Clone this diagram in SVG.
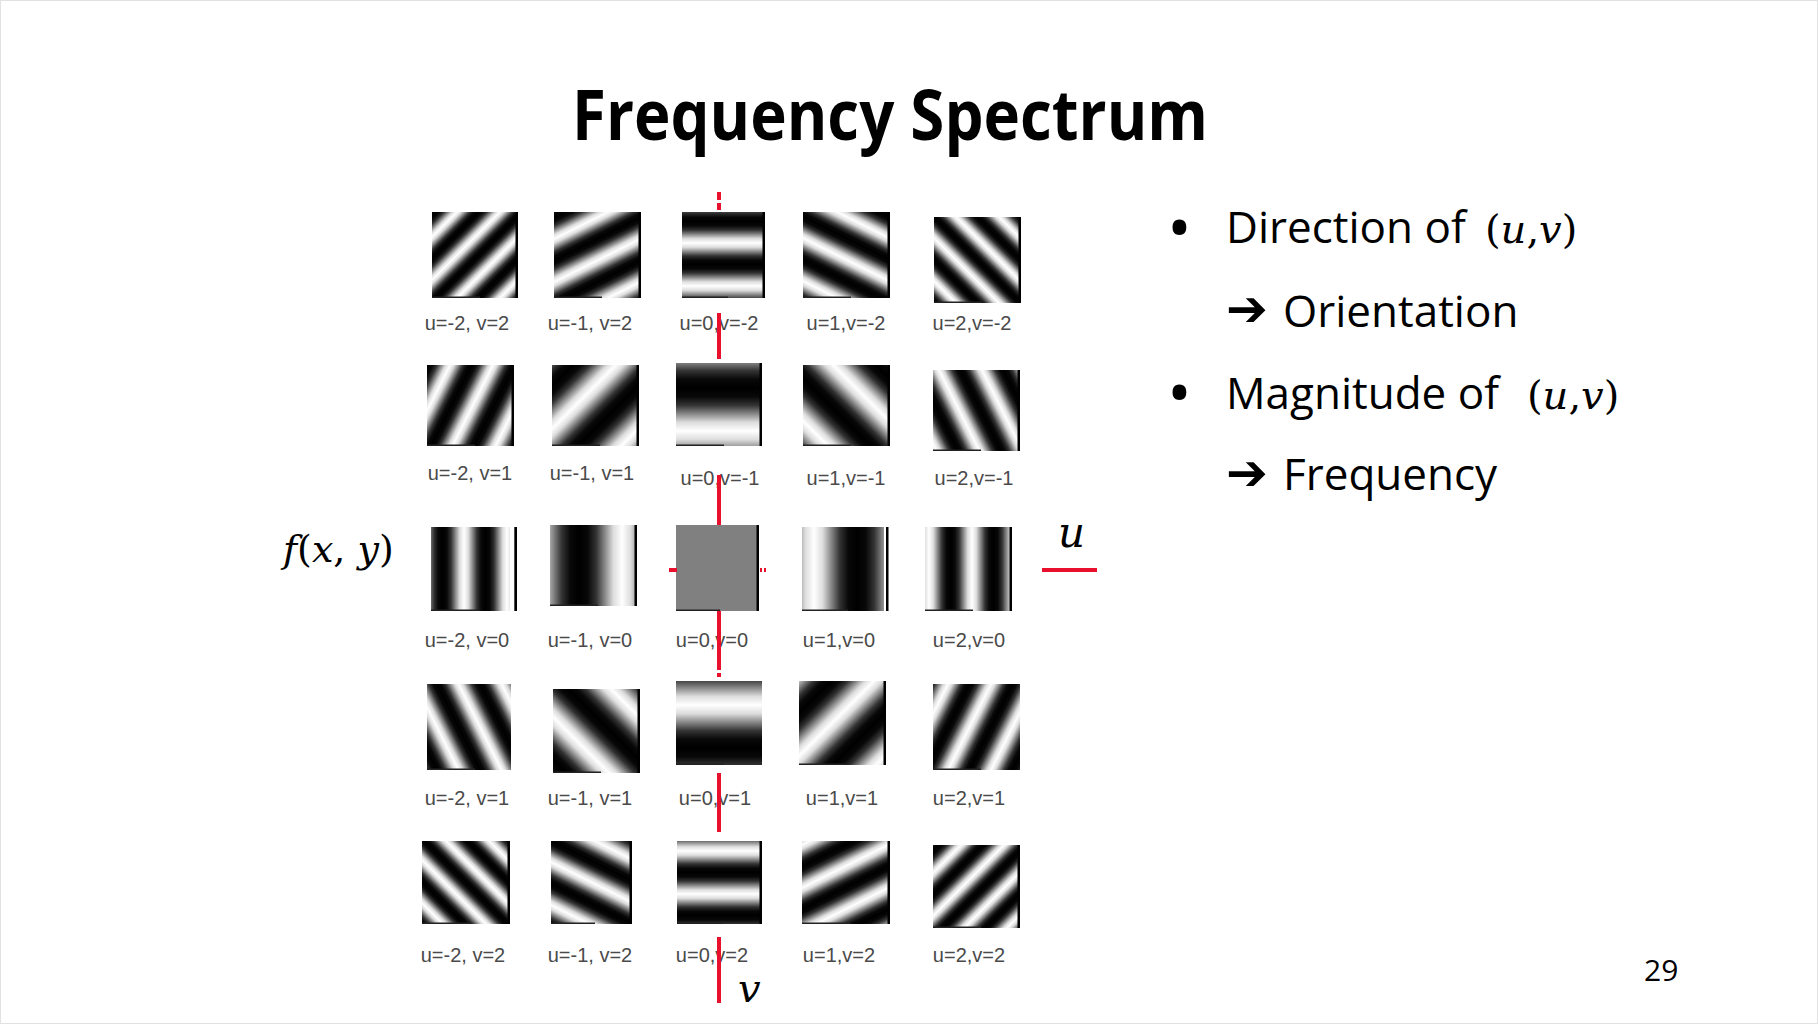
<svg xmlns="http://www.w3.org/2000/svg" xmlns:xlink="http://www.w3.org/1999/xlink" width="1818" height="1024" viewBox="0 0 1818 1024">
<style>
.lbl{font-family:"Liberation Sans",Arial,sans-serif;font-size:20px;fill:#4a4a4a;text-anchor:middle}
.body{font-family:"Open Sans","Noto Sans",sans-serif;font-size:44px;fill:#000}
.bul{font-family:"Open Sans","Noto Sans",sans-serif;font-size:66px;fill:#000}
.math{font-family:"DejaVu Serif",serif;fill:#000}
.it{font-style:italic}
.arrow{font-family:"DejaVu Sans",sans-serif;font-size:50px;font-weight:bold;fill:#000}
.re{fill:#000}
.be{fill:#222}
.red{stroke:#e8102c;stroke-width:4;fill:none}
</style>
<defs>
<linearGradient id="g" gradientUnits="userSpaceOnUse" spreadMethod="repeat">
<stop offset="0" stop-color="#fff"/>
<stop offset="0.1" stop-color="#ddd"/>
<stop offset="0.2" stop-color="#888"/>
<stop offset="0.3" stop-color="#333"/>
<stop offset="0.4" stop-color="#080808"/>
<stop offset="0.5" stop-color="#000"/>
<stop offset="0.6" stop-color="#080808"/>
<stop offset="0.7" stop-color="#333"/>
<stop offset="0.8" stop-color="#888"/>
<stop offset="0.9" stop-color="#ddd"/>
<stop offset="1" stop-color="#fff"/>
</linearGradient>
<linearGradient id="g11" href="#g" gradientUnits="userSpaceOnUse" spreadMethod="repeat" x1="-9" y1="-9" x2="-30.5" y2="-30.5"/>
<linearGradient id="g12" href="#g" gradientUnits="userSpaceOnUse" spreadMethod="repeat" x1="-6.4" y1="-12.8" x2="-23.6" y2="-47.2"/>
<linearGradient id="g13" href="#g" gradientUnits="userSpaceOnUse" spreadMethod="repeat" x1="0" y1="-12" x2="0" y2="-55"/>
<linearGradient id="g14" href="#g" gradientUnits="userSpaceOnUse" spreadMethod="repeat" x1="6.8" y1="-13.6" x2="24" y2="-48"/>
<linearGradient id="g15" href="#g" gradientUnits="userSpaceOnUse" spreadMethod="repeat" x1="11" y1="-11" x2="32.5" y2="-32.5"/>
<linearGradient id="g21" href="#g" gradientUnits="userSpaceOnUse" spreadMethod="repeat" x1="-16" y1="-8" x2="-50.4" y2="-25.2"/>
<linearGradient id="g22" href="#g" gradientUnits="userSpaceOnUse" spreadMethod="repeat" x1="-11" y1="-11" x2="-54" y2="-54"/>
<linearGradient id="g23" href="#g" gradientUnits="userSpaceOnUse" spreadMethod="repeat" x1="0" y1="-18" x2="0" y2="-104"/>
<linearGradient id="g24" href="#g" gradientUnits="userSpaceOnUse" spreadMethod="repeat" x1="15" y1="-15" x2="58" y2="-58"/>
<linearGradient id="g25" href="#g" gradientUnits="userSpaceOnUse" spreadMethod="repeat" x1="4.8" y1="-2.4" x2="39.2" y2="-19.6"/>
<linearGradient id="g31" href="#g" gradientUnits="userSpaceOnUse" spreadMethod="repeat" x1="-10" y1="0" x2="-53" y2="0"/>
<linearGradient id="g32" href="#g" gradientUnits="userSpaceOnUse" spreadMethod="repeat" x1="-14" y1="0" x2="-100" y2="0"/>
<linearGradient id="g34" href="#g" gradientUnits="userSpaceOnUse" spreadMethod="repeat" x1="12" y1="0" x2="98" y2="0"/>
<linearGradient id="g35" href="#g" gradientUnits="userSpaceOnUse" spreadMethod="repeat" x1="4" y1="0" x2="47" y2="0"/>
<linearGradient id="g41" href="#g" gradientUnits="userSpaceOnUse" spreadMethod="repeat" x1="-9.2" y1="4.6" x2="-43.6" y2="21.8"/>
<linearGradient id="g42" href="#g" gradientUnits="userSpaceOnUse" spreadMethod="repeat" x1="-14" y1="14" x2="-57" y2="57"/>
<linearGradient id="g43" href="#g" gradientUnits="userSpaceOnUse" spreadMethod="repeat" x1="0" y1="24" x2="0" y2="110"/>
<linearGradient id="g44" href="#g" gradientUnits="userSpaceOnUse" spreadMethod="repeat" x1="37.5" y1="37.5" x2="80.5" y2="80.5"/>
<linearGradient id="g45" href="#g" gradientUnits="userSpaceOnUse" spreadMethod="repeat" x1="12" y1="6" x2="46.4" y2="23.2"/>
<linearGradient id="g51" href="#g" gradientUnits="userSpaceOnUse" spreadMethod="repeat" x1="-9.5" y1="9.5" x2="-31" y2="31"/>
<linearGradient id="g52" href="#g" gradientUnits="userSpaceOnUse" spreadMethod="repeat" x1="-8.4" y1="16.8" x2="-25.6" y2="51.2"/>
<linearGradient id="g53" href="#g" gradientUnits="userSpaceOnUse" spreadMethod="repeat" x1="0" y1="10" x2="0" y2="53"/>
<linearGradient id="g54" href="#g" gradientUnits="userSpaceOnUse" spreadMethod="repeat" x1="1.6" y1="3.2" x2="18.8" y2="37.6"/>
<linearGradient id="g55" href="#g" gradientUnits="userSpaceOnUse" spreadMethod="repeat" x1="14" y1="14" x2="35.5" y2="35.5"/>
</defs>
<rect x="0.5" y="0.5" width="1817" height="1023" fill="#fff" stroke="#e2e2e2"/>

<text id="title" x="890" y="140" text-anchor="middle" font-family="'Open Sans','Noto Sans',sans-serif" font-weight="bold" font-size="70" textLength="636" lengthAdjust="spacingAndGlyphs" fill="#000">Frequency Spectrum</text>

<!-- row v=-2 -->
<g id="n-u-2-v-2"><rect transform="translate(432,212)" width="86" height="86" fill="url(#g11)"/><rect class="re" x="515.5" y="212" width="2.5" height="86"/><rect class="be" x="432" y="296.5" width="48" height="1.5"/><text class="lbl" x="467" y="330">u=-2, v=2</text></g>
<g id="n-u-1-v-2"><rect transform="translate(554,212)" width="87" height="86" fill="url(#g12)"/><rect class="re" x="638.5" y="212" width="2.5" height="86"/><rect class="be" x="554" y="296.5" width="48" height="1.5"/><text class="lbl" x="590" y="330">u=-1, v=2</text></g>
<g id="n-u0-v-2"><rect transform="translate(682,212)" width="83" height="86" fill="url(#g13)"/><rect class="re" x="762.5" y="212" width="2.5" height="86"/><rect class="be" x="682" y="296.5" width="46" height="1.5"/><text class="lbl" x="719" y="330">u=0,v=-2</text></g>
<g id="n-u1-v-2"><rect transform="translate(803,212)" width="87" height="86" fill="url(#g14)"/><rect class="re" x="887.5" y="212" width="2.5" height="86"/><rect class="be" x="803" y="296.5" width="48" height="1.5"/><text class="lbl" x="846" y="330">u=1,v=-2</text></g>
<g id="n-u2-v-2"><rect transform="translate(934,217)" width="87" height="86" fill="url(#g15)"/><rect class="re" x="1018.5" y="217" width="2.5" height="86"/><rect class="be" x="934" y="301.5" width="48" height="1.5"/><text class="lbl" x="972" y="330">u=2,v=-2</text></g>

<!-- row v=-1 -->
<g id="n-u-2-v-1"><rect transform="translate(427,365)" width="87" height="81" fill="url(#g21)"/><rect class="re" x="511.5" y="365" width="2.5" height="81"/><rect class="be" x="427" y="444.5" width="48" height="1.5"/><text class="lbl" x="470" y="480">u=-2, v=1</text></g>
<g id="n-u-1-v-1"><rect transform="translate(552,365)" width="87" height="81" fill="url(#g22)"/><rect class="re" x="636.5" y="365" width="2.5" height="81"/><rect class="be" x="552" y="444.5" width="48" height="1.5"/><text class="lbl" x="592" y="480">u=-1, v=1</text></g>
<g id="n-u0-v-1"><rect transform="translate(676,363)" width="86" height="83" fill="url(#g23)"/><rect class="re" x="759.5" y="363" width="2.5" height="83"/><rect class="be" x="676" y="444.5" width="48" height="1.5"/><text class="lbl" x="720" y="485">u=0,v=-1</text></g>
<g id="n-u1-v-1"><rect transform="translate(803,365)" width="87" height="81" fill="url(#g24)"/><rect class="re" x="887.5" y="365" width="2.5" height="81"/><rect class="be" x="803" y="444.5" width="48" height="1.5"/><text class="lbl" x="846" y="485">u=1,v=-1</text></g>
<g id="n-u2-v-1"><rect transform="translate(933,370)" width="87" height="81" fill="url(#g25)"/><rect class="re" x="1017.5" y="370" width="2.5" height="81"/><rect class="be" x="933" y="449.5" width="48" height="1.5"/><text class="lbl" x="974" y="485">u=2,v=-1</text></g>

<!-- row v=0 -->
<g id="n-u-2-v0"><rect transform="translate(431,527)" width="86" height="84" fill="url(#g31)"/><rect fill="#fff" x="510" y="527" width="4" height="84"/><rect class="re" x="514.5" y="527" width="2.5" height="84"/><rect class="be" x="431" y="609.5" width="48" height="1.5"/><text class="lbl" x="467" y="647">u=-2, v=0</text></g>
<g id="n-u-1-v0"><rect transform="translate(550,525)" width="87" height="81" fill="url(#g32)"/><rect class="re" x="634.5" y="525" width="2.5" height="81"/><rect class="be" x="550" y="604.5" width="48" height="1.5"/><text class="lbl" x="590" y="647">u=-1, v=0</text></g>
<g id="n-u0-v0"><rect x="676" y="525" width="83" height="86" fill="#808080"/><rect class="re" x="756.5" y="525" width="2.5" height="86"/><rect class="be" x="676" y="609.5" width="44" height="1.5"/><text class="lbl" x="712" y="647">u=0,v=0</text></g>
<g id="n-u1-v0"><rect transform="translate(802,527)" width="82" height="84" fill="url(#g34)"/><rect class="re" x="886" y="527" width="2.5" height="84"/><rect class="be" x="802" y="609.5" width="46" height="1.5"/><text class="lbl" x="839" y="647">u=1,v=0</text></g>
<g id="n-u2-v0"><rect transform="translate(925,527)" width="87" height="84" fill="url(#g35)"/><rect class="re" x="1009.5" y="527" width="2.5" height="84"/><rect class="be" x="925" y="609.5" width="48" height="1.5"/><text class="lbl" x="969" y="647">u=2,v=0</text></g>

<!-- row v=1 -->
<g id="n-u-2-v1"><rect transform="translate(427,684)" width="84" height="86" fill="url(#g41)"/><rect class="be" x="427" y="768.5" width="48" height="1.5"/><text class="lbl" x="467" y="805">u=-2, v=1</text></g>
<g id="n-u-1-v1"><rect transform="translate(553,689)" width="87" height="84" fill="url(#g42)"/><rect class="re" x="637.5" y="689" width="2.5" height="84"/><rect class="be" x="553" y="771.5" width="48" height="1.5"/><text class="lbl" x="590" y="805">u=-1, v=1</text></g>
<g id="n-u0-v1"><rect transform="translate(676,681)" width="86" height="84" fill="url(#g43)"/><rect class="be" x="676" y="763.5" width="48" height="1.5"/><text class="lbl" x="715" y="805">u=0,v=1</text></g>
<g id="n-u1-v1"><rect transform="translate(799,681)" width="87" height="84" fill="url(#g44)"/><rect class="re" x="883.5" y="681" width="2.5" height="84"/><rect class="be" x="799" y="763.5" width="48" height="1.5"/><text class="lbl" x="842" y="805">u=1,v=1</text></g>
<g id="n-u2-v1"><rect transform="translate(933,684)" width="87" height="86" fill="url(#g45)"/><rect class="be" x="933" y="768.5" width="48" height="1.5"/><text class="lbl" x="969" y="805">u=2,v=1</text></g>

<!-- row v=2 -->
<g id="n-u-2-v2"><rect transform="translate(422,841)" width="88" height="83" fill="url(#g51)"/><rect class="re" x="507.5" y="841" width="2.5" height="83"/><rect class="be" x="422" y="922.5" width="48" height="1.5"/><text class="lbl" x="463" y="962">u=-2, v=2</text></g>
<g id="n-u-1-v2"><rect transform="translate(551,841)" width="81" height="83" fill="url(#g52)"/><rect class="re" x="629.5" y="841" width="2.5" height="83"/><rect class="be" x="551" y="922.5" width="44" height="1.5"/><text class="lbl" x="590" y="962">u=-1, v=2</text></g>
<g id="n-u0-v2"><rect transform="translate(677,841)" width="85" height="83" fill="url(#g53)"/><rect class="re" x="759.5" y="841" width="2.5" height="83"/><rect class="be" x="677" y="922.5" width="46" height="1.5"/><text class="lbl" x="712" y="962">u=0,v=2</text></g>
<g id="n-u1-v2"><rect transform="translate(802,841)" width="88" height="83" fill="url(#g54)"/><rect class="re" x="887.5" y="841" width="2.5" height="83"/><rect class="be" x="802" y="922.5" width="48" height="1.5"/><text class="lbl" x="839" y="962">u=1,v=2</text></g>
<g id="n-u2-v2"><rect transform="translate(933,845)" width="87" height="83" fill="url(#g55)"/><rect class="re" x="1017.5" y="845" width="2.5" height="83"/><rect class="be" x="933" y="926.5" width="48" height="1.5"/><text class="lbl" x="969" y="962">u=2,v=2</text></g>

<!-- axes -->
<g id="axes">
<path class="red" d="M719,192V200 M719,203V210"/>
<path class="red" d="M719,313V359"/>
<path class="red" d="M719,475V525"/>
<path class="red" d="M719,611V670 M719,673V677"/>
<path class="red" d="M719,773V832"/>
<path class="red" d="M719,937V1003"/>
<path class="red" d="M669,570H677"/>
<path class="red" d="M760,570H762 M764,570H766" stroke-width="2"/>
<path class="red" d="M1042,570H1097"/>
</g>

<text id="lbl-u" class="math it" x="1058" y="547" font-size="42">u</text>
<text id="lbl-v" class="math it" x="738" y="1002" font-size="40">v</text>
<text id="lbl-f" class="math" x="283" y="562" font-size="38"><tspan class="it">f</tspan>(<tspan class="it">x</tspan>, <tspan class="it">y</tspan>)</text>

<g id="bullets">
<text class="bul" x="1167" y="251">•</text>
<text class="body" x="1226" y="243">Direction of</text>
<text class="math" x="1485" y="243" font-size="40">(<tspan class="it">u</tspan>,<tspan class="it">v</tspan>)</text>
<text class="arrow" x="1226" y="326">➔</text>
<text class="body" x="1283" y="327">Orientation</text>
<text class="bul" x="1167" y="416">•</text>
<text class="body" x="1226" y="409">Magnitude of</text>
<text class="math" x="1527" y="409" font-size="40">(<tspan class="it">u</tspan>,<tspan class="it">v</tspan>)</text>
<text class="arrow" x="1226" y="490">➔</text>
<text class="body" x="1283" y="490">Frequency</text>
</g>

<text id="page" x="1644" y="981" font-family="'Open Sans','Noto Sans',sans-serif" font-size="30" fill="#000">29</text>
</svg>
